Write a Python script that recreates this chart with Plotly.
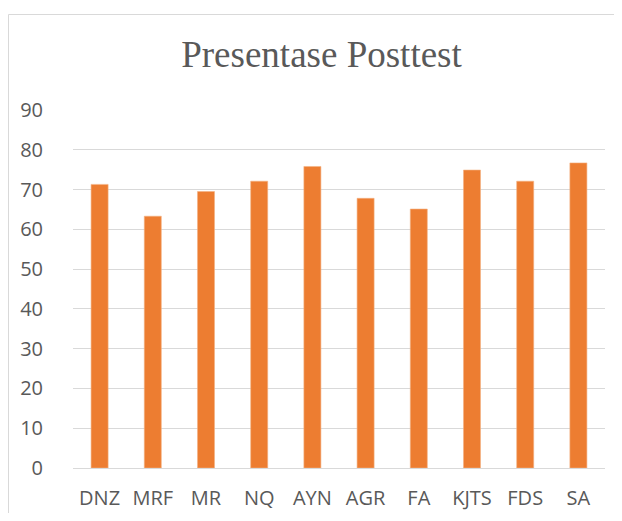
import plotly.graph_objects as go

categories = ["DNZ", "MRF", "MR", "NQ", "AYN", "AGR", "FA", "KJTS", "FDS", "SA"]
values = [71.3, 63.3, 69.5, 72.1, 75.8, 67.8, 65.1, 74.9, 72.1, 76.7]
y_ticks = [0, 10, 20, 30, 40, 50, 60, 70, 80, 90]
title_text = "Presentase Posttest"

W, H = 606, 505
L, T = 65, 101
PW, PH = 532, 359  # plot area size in px

fig = go.Figure(
    go.Bar(
        x=categories,
        y=values,
        marker=dict(color="#ED7D31", line=dict(color="#F4B183", width=0.6)),
    )
)

fig.update_layout(
    width=W,
    height=H,
    margin=dict(l=L, r=W - L - PW, t=T, b=H - T - PH, autoexpand=False),
    paper_bgcolor="white",
    plot_bgcolor="white",
    bargap=0.68,
    showlegend=False,
    title=dict(
        text=title_text,
        font=dict(family="Liberation Serif", size=37, color="#595959"),
        x=313.5 / W,
        xref="container",
        xanchor="center",
        y=1 - 46 / H,
        yref="container",
        yanchor="middle",
    ),
    font=dict(family="Open Sans", color="#595959"),
    shapes=[
        dict(
            type="rect",
            xref="paper",
            yref="paper",
            x0=(0.5 - L) / PW,
            x1=1.3,
            y0=-0.5,
            y1=(T + PH - 6.5) / PH,
            line=dict(color="#D9D9D9", width=1),
            fillcolor="rgba(0,0,0,0)",
            layer="below",
        )
    ],
)

fig.update_yaxes(
    range=[0, 90.25],
    tickvals=y_ticks,
    showgrid=True,
    gridcolor="#D9D9D9",
    gridwidth=1,
    zeroline=False,
    showline=False,
    automargin=False,
    ticks="outside",
    ticklen=25,
    tickcolor="rgba(0,0,0,0)",
    tickfont=dict(family="Open Sans", size=20, color="#595959"),
)

fig.update_xaxes(
    showgrid=False,
    showline=True,
    linecolor="#D9D9D9",
    linewidth=1,
    automargin=False,
    ticks="outside",
    ticklen=12,
    tickcolor="rgba(0,0,0,0)",
    tickfont=dict(family="Open Sans", size=20, color="#595959"),
)

fig.write_html("out.html")
